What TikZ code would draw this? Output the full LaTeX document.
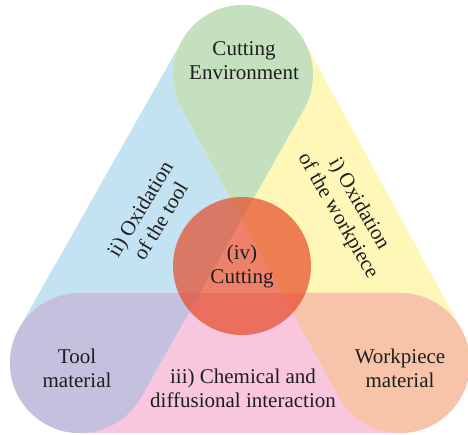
\documentclass[tikz,border=0pt]{standalone}
\usepackage{fontspec}
\setmainfont{Liberation Serif}
\usetikzlibrary{calc}

\definecolor{toolblue}{RGB}{196,227,242}
\definecolor{workyellow}{RGB}{254,247,184}
\definecolor{chempink}{RGB}{248,198,221}
\definecolor{envgreen}{RGB}{197,224,190}
\definecolor{toolpurple}{RGB}{196,192,222}
\definecolor{workpeach}{RGB}{247,196,170}
\definecolor{cutred}{RGB}{230,70,35}
\definecolor{txtgray}{RGB}{30,30,30}

% stadium shape around the segment #1--#2
\def\caprad{70pt}
\newcommand{\capsule}[2]{let \p1=($(#2)-(#1)$), \n1={atan2(\y1,\x1)} in
  ($(#1)+(\n1+90:\caprad)$) arc[start angle=\n1+90, end angle=\n1+270, radius=\caprad]
  -- ($(#2)+(\n1-90:\caprad)$) arc[start angle=\n1-90, end angle=\n1+90, radius=\caprad] -- cycle}

\begin{document}
\begin{tikzpicture}[x=1pt, y=-1pt,
    txt/.style={align=center, text=txtgray, font=\fontsize{21}{24}\selectfont, inner sep=0pt}]
    \useasboundingbox (0,0) rectangle (468,435);

    % corners of the triangle
    \coordinate (env) at (243,75);
    \coordinate (tool) at (80,363);
    \coordinate (work) at (400,363);

    % one band per side
    \fill[toolblue] \capsule{tool}{env};
    \fill[workyellow] \capsule{env}{work};
    \fill[chempink] \capsule{tool}{work};

    % corners where two bands overlap
    \begin{scope}
        \clip \capsule{tool}{env};
        \fill[envgreen] \capsule{env}{work};
        \fill[toolpurple] \capsule{tool}{work};
    \end{scope}
    \begin{scope}
        \clip \capsule{env}{work};
        \fill[workpeach] \capsule{tool}{work};
    \end{scope}

    % centre
    \node (cut) [txt, circle, minimum size=138pt, fill=cutred, fill opacity=.68, text opacity=1]
        at (242,266) {(iv)\\Cutting};

    % corner labels
    \node (envtxt) [txt] at (244,61) {Cutting\\Environment};
    \node (tooltxt) [txt] at (77,368) {Tool\\material};
    \node (worktxt) [txt] at (400,368) {Workpiece\\material};

    % side labels
    \node (oxtool) [txt, rotate=59] at (150,215) {ii) Oxidation\\of the tool};
    \node (oxwork) [txt, rotate=-60] at (348,210) {i) Oxidation\\of the workpiece};
    \node (chem) [txt] at (243,388) {iii) Chemical and\\diffusional interaction};
\end{tikzpicture}
\end{document}
